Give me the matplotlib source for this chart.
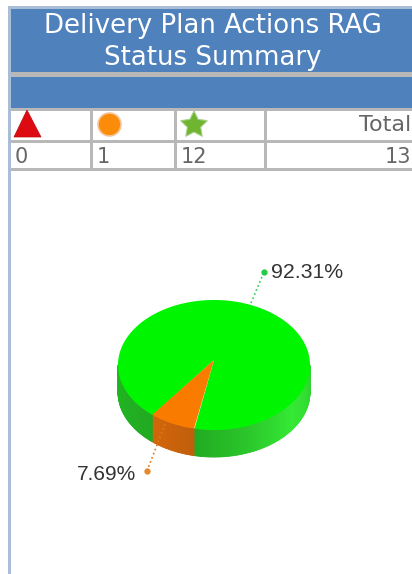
import matplotlib.pyplot as plt
import matplotlib.colors as mcolors
from matplotlib.patches import Rectangle, Polygon
import numpy as np

title_lines = ["Delivery Plan Actions RAG", "Status Summary"]
counts = [0, 1, 12]
total = 13
slice_values = [1, 12]
slice_labels = ["7.69%", "92.31%"]

BLUE = '#4f81bd'
GRID = '#b8b8b8'
BORDER = '#a9bdd6'
TEXT = '#666666'

fig = plt.figure(figsize=(4.12, 5.74), dpi=100)
ax = fig.add_axes([0, 0, 1, 1])
ax.set_xlim(0, 412)
ax.set_ylim(574, 0)
ax.axis('off')


def box(x, y, w, h, color, z=1):
    ax.add_patch(Rectangle((x, y), w, h, facecolor=color, edgecolor='none', zorder=z))


# table frame and header
box(8, 6, 404, 3, BORDER)
box(8, 6, 3, 568, BORDER)
box(11, 9, 401, 63, BLUE)
box(11, 72, 401, 5, GRID)
box(11, 77, 401, 31, BLUE)
box(11, 108, 401, 3, GRID)
box(11, 140, 401, 3, GRID)
box(11, 168, 401, 3, GRID)
for x in [90, 174, 264]:
    box(x, 111, 3, 57, GRID)

ax.text(213, 26, title_lines[0], color='white', fontsize=18.7, ha='center', va='center')
ax.text(213, 58, title_lines[1], color='white', fontsize=18.7, ha='center', va='center')

# icons
ax.add_patch(Polygon([[27, 110], [41, 137], [14, 137]], closed=True, facecolor='#dd0a12', edgecolor='#c00a10', lw=0.5, zorder=3))
ax.plot([109], [124], marker='o', ms=16.5, mfc='#fb8c0a', mec='#f3c49a', mew=1.2, zorder=3)
star_t = np.radians(np.arange(10) * 36 - 90)
star_r = np.where(np.arange(10) % 2 == 0, 14, 7)
star = np.column_stack([194 + star_r * np.cos(star_t), 125 + star_r * np.sin(star_t)])
ax.add_patch(Polygon(star, closed=True, facecolor='#6fb52f', edgecolor='#a9cf8c', lw=0.8, zorder=3))

# table text
row_y = 157
for x, n in zip([15, 97, 181], counts):
    ax.text(x, row_y, str(n), color=TEXT, fontsize=15, ha='left', va='center')
ax.text(411, 125, "Total", color=TEXT, fontsize=16, ha='right', va='center')
ax.text(411, row_y, str(total), color=TEXT, fontsize=15, ha='right', va='center')

# 3d pie, angles measured clockwise on screen
cx, cy = 214, 365
apex_y = 360
rx, ry = 96, 65
depth = 27
start = 102.0
fracs = np.array(slice_values) / sum(slice_values)
spans = fracs * 360
orange_a = start
orange_b = start + spans[0]
green_a = orange_b
green_b = green_a + spans[1]


def rim(t):
    r = np.radians(t)
    return cx + rx * np.cos(r), cy + ry * np.sin(r)


green_side = mcolors.LinearSegmentedColormap.from_list(
    'side', ['#1fb81f', '#22ad22', '#1fa51f', '#2ac42a', '#35ea35', '#2fd02f'])
orange_side = mcolors.LinearSegmentedColormap.from_list('oside', ['#c05f0c', '#d4660a'])

# side wall, front half only, thin strips
ts = np.arange(0, 180, 1.0)
for t in ts:
    x0, y0 = rim(t)
    x1, y1 = rim(t + 1.2)
    in_orange = orange_a <= t < orange_b
    if in_orange:
        c = orange_side((t - orange_a) / spans[0])
    else:
        c = green_side(1 - t / 180)
    ax.add_patch(Polygon([[x0, y0], [x1, y1], [x1, y1 + depth], [x0, y0 + depth]],
                         closed=True, facecolor=c, edgecolor=c, lw=0.6, zorder=4))

# top face
tg = np.arange(green_a, green_b + 0.5, 1.0)
green_pts = [[cx, apex_y]] + [list(rim(t)) for t in tg]
ax.add_patch(Polygon(green_pts, closed=True, facecolor='#00f500', edgecolor='none', zorder=5))
to = np.arange(orange_a, orange_b + 0.5, 1.0)
orange_pts = [[cx, apex_y]] + [list(rim(t)) for t in to]
ax.add_patch(Polygon(orange_pts, closed=True, facecolor='#f97b00', edgecolor='none', zorder=6))

# leader lines with end dots
ax.plot([251, 264], [303, 272], ls=':', color='#33cc55', lw=1.2, zorder=3)
ax.plot([264], [272], marker='o', ms=3.5, color='#22cc44', zorder=3)
ax.plot([165, 147], [424, 471], ls=':', color='#e07a20', lw=1.2, zorder=7)
ax.plot([147], [471], marker='o', ms=3.5, color='#e8862a', zorder=7)

ax.text(271, 272, slice_labels[1], color='#333333', fontsize=15.3, family='Liberation Sans', ha='left', va='center')
ax.text(77, 475, slice_labels[0], color='#333333', fontsize=15, family='Liberation Sans', ha='left', va='center')

fig.savefig('out.png', dpi=100)
plt.close(fig)
